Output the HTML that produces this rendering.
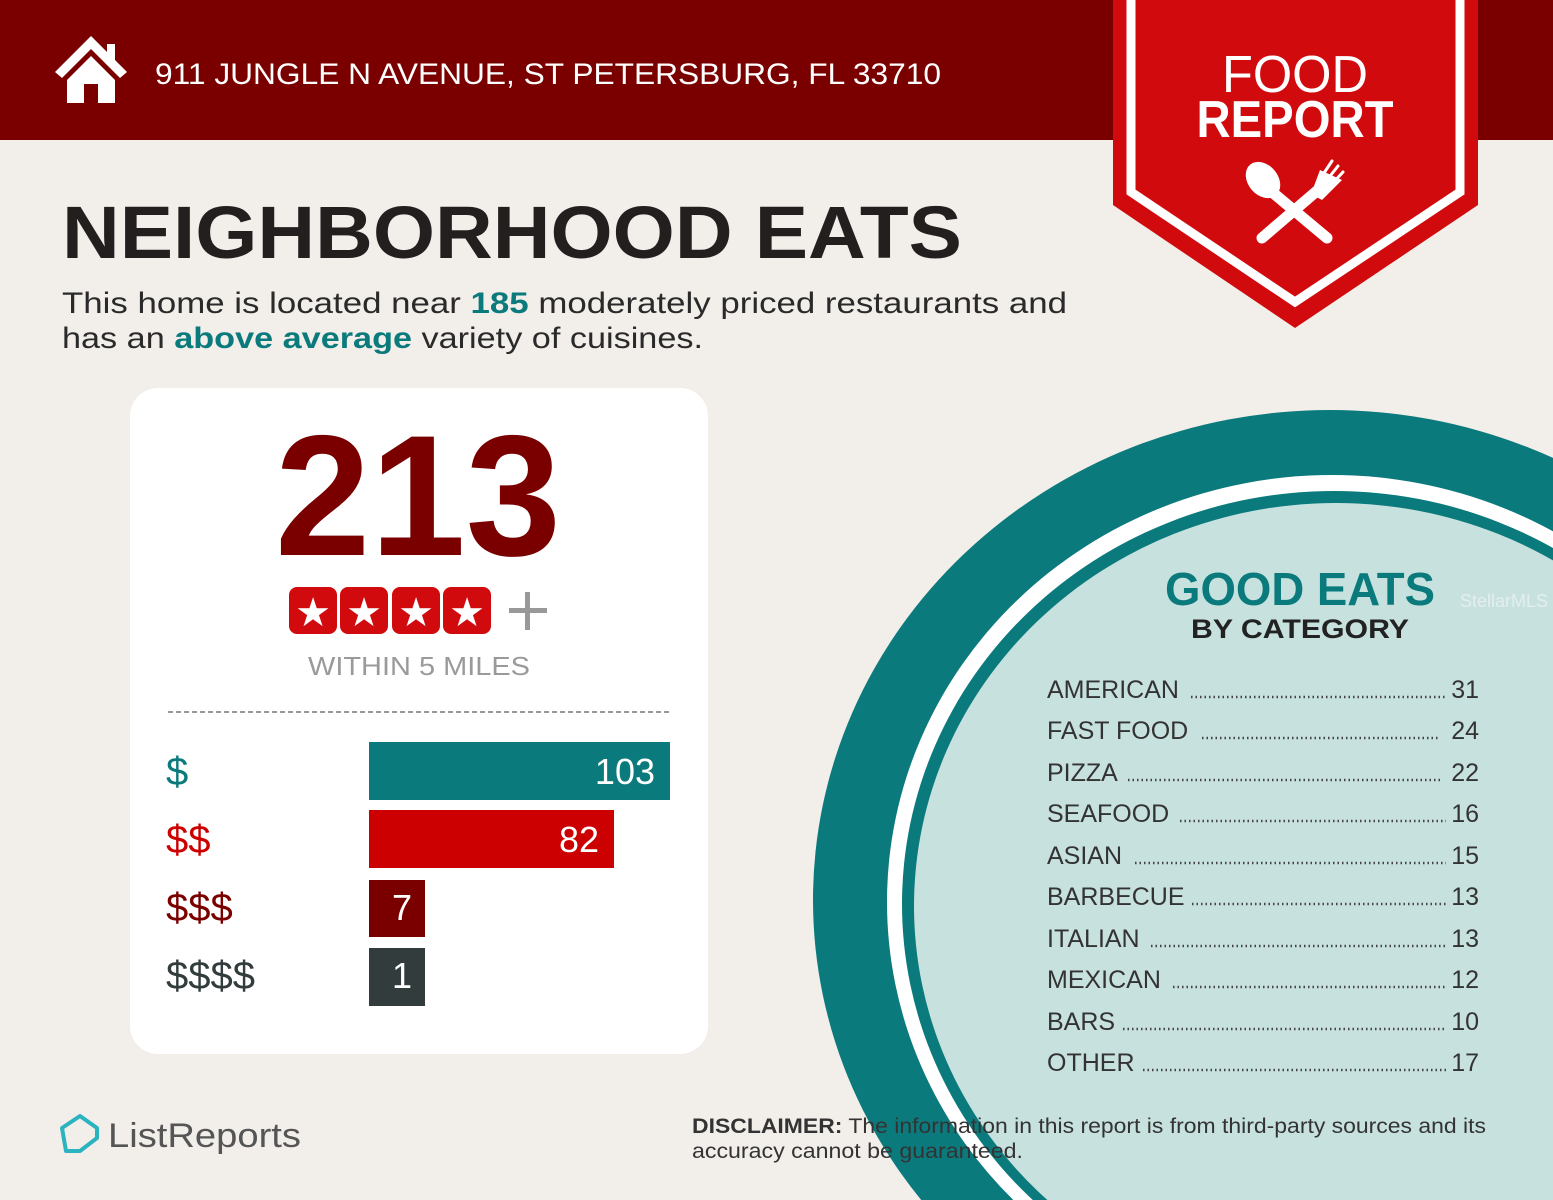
<!DOCTYPE html>
<html><head><meta charset="utf-8"><style>html,body{margin:0;padding:0;background:#f2eeea;width:1553px;height:1200px;overflow:hidden}svg{display:block}</style></head>
<body>
<svg width="1553" height="1200" viewBox="0 0 1553 1200" xmlns="http://www.w3.org/2000/svg" font-family="Liberation Sans, sans-serif">
<rect width="1553" height="1200" fill="#f2eeea"/>
<!-- circle -->
<ellipse cx="1330" cy="900" rx="517" ry="490" fill="#0b7a7c"/>
<ellipse cx="1332" cy="902" rx="445" ry="427" fill="#ffffff"/>
<ellipse cx="1334" cy="904" rx="432" ry="413" fill="#0b7a7c"/>
<ellipse cx="1336" cy="906" rx="422" ry="403" fill="#c7e1df"/>
<!-- header -->
<rect x="0" y="0" width="1553" height="140" fill="#7a0000"/>
<g fill="#fff">
<path d="M91 36 L55 72 L62 78 L91 49 L120 78 L127 72 L115 60 L115 44 L107 44 L107 52 Z"/>
<path d="M91 56 L67 80 L67 103 L84 103 L84 84 L98 84 L98 103 L115 103 L115 80 Z"/>
</g>
<text x="155" y="84" font-size="30" fill="#fff" textLength="786" lengthAdjust="spacingAndGlyphs">911 JUNGLE N AVENUE, ST PETERSBURG, FL 33710</text>
<!-- banner -->
<path d="M1113 0 H1478 V205 L1295 328 L1113 205 Z" fill="#d10a0e"/>
<path d="M1131 0 V192 L1295 302 L1460 192 V0" fill="none" stroke="#fff" stroke-width="9"/>
<text x="1295" y="92" font-size="52" fill="#fff" text-anchor="middle" textLength="146" lengthAdjust="spacingAndGlyphs">FOOD</text>
<text x="1295" y="137" font-size="52" font-weight="bold" fill="#fff" text-anchor="middle" textLength="197" lengthAdjust="spacingAndGlyphs">REPORT</text>
<g fill="#fff" stroke="#fff" stroke-linecap="round">
<ellipse cx="1263" cy="180" rx="15" ry="20" transform="rotate(-40 1263 180)" stroke="none"/>
<line x1="1272" y1="192" x2="1327" y2="238" stroke-width="11"/>
<line x1="1262" y1="238" x2="1318" y2="190" stroke-width="11"/>
<path d="M1311 194 L1320 170 L1342 180 L1322 200 Z" stroke="none"/>
<line x1="1322" y1="176" x2="1332" y2="161" stroke-width="3"/>
<line x1="1327" y1="180" x2="1338" y2="166" stroke-width="3"/>
<line x1="1332" y1="184" x2="1343" y2="172" stroke-width="3"/>
</g>
<!-- headline -->
<text x="62" y="258" font-size="74" font-weight="bold" fill="#231f1f" textLength="900" lengthAdjust="spacingAndGlyphs">NEIGHBORHOOD EATS</text>
<text x="62" y="313" font-size="30" fill="#2a2a2a" textLength="1005" lengthAdjust="spacingAndGlyphs">This home is located near <tspan fill="#0b7a7c" font-weight="bold">185</tspan> moderately priced restaurants and</text>
<text x="62" y="348" font-size="30" fill="#2a2a2a" textLength="641" lengthAdjust="spacingAndGlyphs">has an <tspan fill="#0b7a7c" font-weight="bold">above average</tspan> variety of cuisines.</text>
<!-- card -->
<rect x="130" y="388" width="578" height="666" rx="28" fill="#fff"/>
<text x="418" y="555" font-size="172" font-weight="bold" fill="#7a0000" text-anchor="middle" textLength="286" lengthAdjust="spacingAndGlyphs">213</text>
<g>
<rect x="289" y="587" width="48" height="47" rx="8" fill="#d10a0e"/>
<rect x="340" y="587" width="48" height="47" rx="8" fill="#d10a0e"/>
<rect x="392" y="587" width="48" height="47" rx="8" fill="#d10a0e"/>
<rect x="443" y="587" width="48" height="47" rx="8" fill="#d10a0e"/>
<g fill="#fff" font-size="40" text-anchor="middle">
<text x="313" y="626">★</text><text x="364" y="626">★</text><text x="416" y="626">★</text><text x="467" y="626">★</text>
</g>
<rect x="509" y="608" width="38" height="5" fill="#999"/>
<rect x="525" y="592" width="5" height="38" fill="#999"/>
</g>
<text x="419" y="675" font-size="26" fill="#9a9a9a" text-anchor="middle" textLength="222" lengthAdjust="spacingAndGlyphs">WITHIN 5 MILES</text>
<line x1="168" y1="712" x2="670" y2="712" stroke="#999" stroke-width="2" stroke-dasharray="5 3"/>
<rect x="369" y="742" width="301" height="58" fill="#0b7a7c"/>
<rect x="369" y="810" width="245" height="58" fill="#cc0000"/>
<rect x="369" y="880" width="56" height="57" fill="#7a0000"/>
<rect x="369" y="948" width="56" height="58" fill="#323c3c"/>
<g font-size="36" fill="#fff" text-anchor="end">
<text x="655" y="784">103</text><text x="599" y="852">82</text><text x="412" y="920">7</text><text x="412" y="988">1</text>
</g>
<g font-size="40">
<text x="166" y="785" fill="#0b7a7c">$</text>
<text x="166" y="853" fill="#cc0000">$$</text>
<text x="166" y="921" fill="#7a0000">$$$</text>
<text x="166" y="989" fill="#323c3c">$$$$</text>
</g>
<!-- good eats -->
<text x="1300" y="605" font-size="46" font-weight="bold" fill="#0b7a7c" text-anchor="middle" textLength="270" lengthAdjust="spacingAndGlyphs">GOOD EATS</text>
<text x="1300" y="638" font-size="27" font-weight="bold" fill="#222" text-anchor="middle" textLength="218" lengthAdjust="spacingAndGlyphs">BY CATEGORY</text>
<text x="1460" y="607" font-size="18" fill="#e4eeee">StellarMLS</text>
<g font-size="25" fill="#333">
<text x="1047" y="698">AMERICAN</text><text x="1047" y="739">FAST FOOD</text><text x="1047" y="781">PIZZA</text><text x="1047" y="822">SEAFOOD</text><text x="1047" y="864">ASIAN</text><text x="1047" y="905">BARBECUE</text><text x="1047" y="947">ITALIAN</text><text x="1047" y="988">MEXICAN</text><text x="1047" y="1030">BARS</text><text x="1047" y="1071">OTHER</text>
</g>
<g font-size="25" fill="#333" text-anchor="end">
<text x="1479" y="698">31</text><text x="1479" y="739">24</text><text x="1479" y="781">22</text><text x="1479" y="822">16</text><text x="1479" y="864">15</text><text x="1479" y="905">13</text><text x="1479" y="947">13</text><text x="1479" y="988">12</text><text x="1479" y="1030">10</text><text x="1479" y="1071">17</text>
</g>
<g stroke="#444" stroke-width="2.5" stroke-dasharray="1.5 3">
<line x1="1191" y1="697" x2="1446" y2="697"/><line x1="1202" y1="738" x2="1440" y2="738"/><line x1="1128" y1="780" x2="1440" y2="780"/><line x1="1180" y1="821" x2="1446" y2="821"/><line x1="1135" y1="863" x2="1446" y2="863"/><line x1="1192" y1="904" x2="1446" y2="904"/><line x1="1151" y1="946" x2="1446" y2="946"/><line x1="1173" y1="987" x2="1446" y2="987"/><line x1="1123" y1="1029" x2="1446" y2="1029"/><line x1="1143" y1="1070" x2="1446" y2="1070"/>
</g>
<!-- footer -->
<path d="M62 1128 L80 1116 L97 1128 L97 1138 L80 1151 L66 1151 Z" fill="none" stroke="#2bb3c0" stroke-width="4" stroke-linejoin="round"/>
<text x="108" y="1147" font-size="34" fill="#555" textLength="193" lengthAdjust="spacingAndGlyphs">ListReports</text>
<text x="692" y="1133" font-size="21" fill="#333" textLength="794" lengthAdjust="spacingAndGlyphs"><tspan font-weight="bold">DISCLAIMER:</tspan> The information in this report is from third-party sources and its</text>
<text x="692" y="1158" font-size="21" fill="#333" textLength="331" lengthAdjust="spacingAndGlyphs">accuracy cannot be guaranteed.</text>
</svg>
</body></html>
